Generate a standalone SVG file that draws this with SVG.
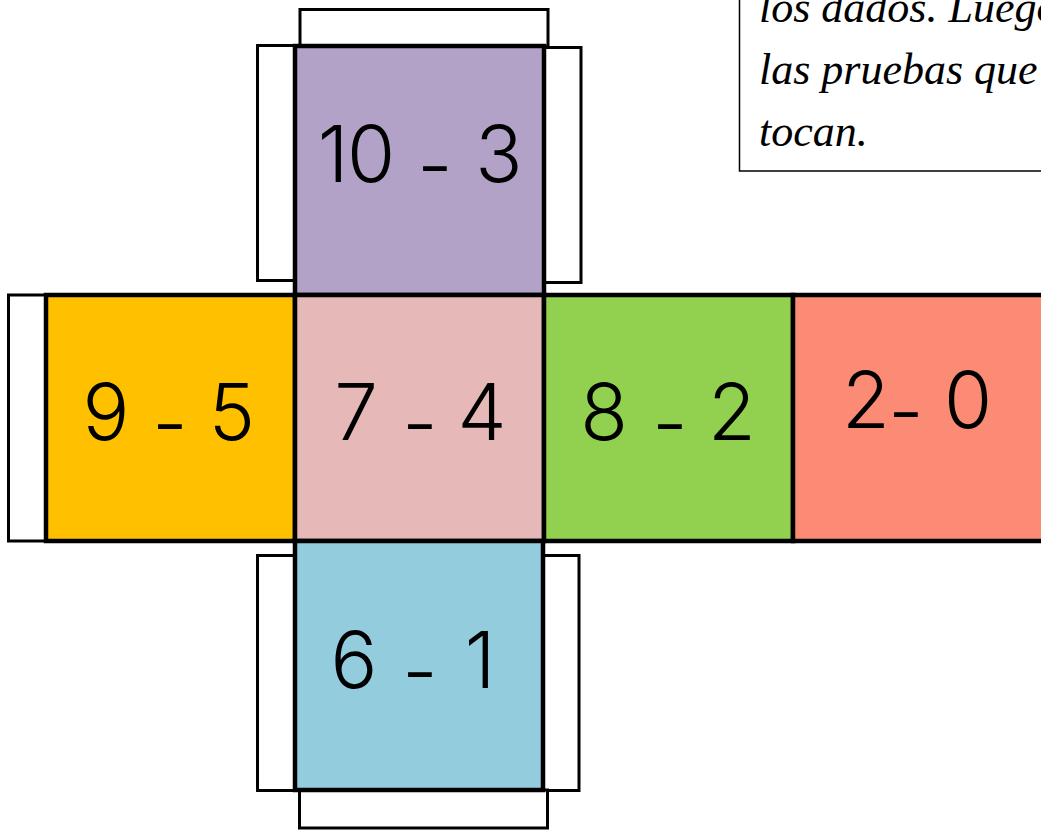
<svg xmlns="http://www.w3.org/2000/svg" width="1041" height="831" viewBox="0 0 1041 831">
<style>
.flap{fill:#fff;stroke:#000;stroke-width:3}
.face{stroke:#000;stroke-width:4.5}
.num{font-family:"Inter","Liberation Sans",Arial,sans-serif;font-weight:300;font-size:78px;fill:#000;text-anchor:middle}
.note{font-family:"Liberation Serif","Times New Roman",serif;font-style:italic;font-size:44px;fill:#000}
</style>
<rect width="1041" height="831" fill="#fff"/>
<g id="note">
<rect x="739.5" y="-10" width="320" height="181" fill="#fff" stroke="#000" stroke-width="1.5"/>
<text class="note" x="759" y="22">los dados. Luego</text>
<text class="note" x="759" y="84">las pruebas que</text>
<text class="note" x="759" y="146">tocan.</text>
</g>
<g id="flaps">
<rect class="flap" x="300" y="9.5" width="248" height="37"/>
<rect class="flap" x="257.5" y="45.5" width="38" height="235"/>
<rect class="flap" x="544" y="47.5" width="37" height="235"/>
<rect class="flap" x="8.5" y="295" width="38" height="246"/>
<rect class="flap" x="257.5" y="555.5" width="38" height="235"/>
<rect class="flap" x="542" y="555.5" width="37" height="235"/>
<rect class="flap" x="299.5" y="790" width="248" height="38"/>
</g>
<g id="face-top">
<rect class="face" x="295" y="46" width="249" height="249" fill="#B3A2C7"/>
<text class="num" x="333 371 400 435 470 499" y="182" dy="0 0 0 11 -11 0">10 - 3</text>
</g>
<g id="face-left">
<rect class="face" x="46" y="295" width="249" height="246" fill="#FFC000"/>
<text class="num" x="106 140 170 200 232" y="440" dy="0 0 11 -11 0">9 - 5</text>
</g>
<g id="face-center">
<rect class="face" x="295" y="295" width="249" height="246" fill="#E6B9B8"/>
<text class="num" x="356 390 420 450 482" y="440" dy="0 0 11 -11 0">7 - 4</text>
</g>
<g id="face-right">
<rect class="face" x="544" y="295" width="249" height="246" fill="#92D050"/>
<text class="num" x="604 640 670 700 732" y="440" dy="0 0 11 -11 0">8 - 2</text>
</g>
<g id="face-far">
<rect class="face" x="793" y="295" width="252" height="246" fill="#FC8B76"/>
<text class="num" x="866 906 935 968" y="428" dy="0 11 -11 0">2- 0</text>
</g>
<g id="face-bottom">
<rect class="face" x="295" y="541" width="248" height="249" fill="#93CDDD"/>
<text class="num" x="354 390 420 450 480" y="688" dy="0 0 11 -11 0">6 - 1</text>
</g>
</svg>
